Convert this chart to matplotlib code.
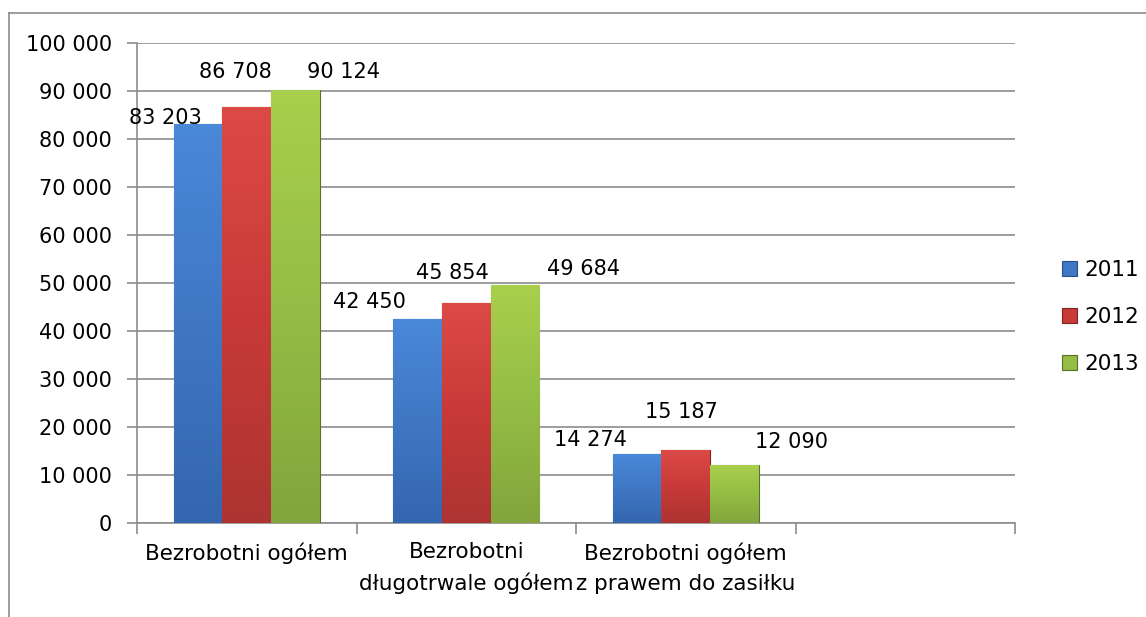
import matplotlib
matplotlib.use('Agg')
import matplotlib.pyplot as plt
import numpy as np
from matplotlib.colors import LinearSegmentedColormap
from matplotlib.lines import Line2D
from matplotlib.patches import Patch

categories = ['Bezrobotni ogółem',
              'Bezrobotni\ndługotrwale ogółem',
              'Bezrobotni ogółem\nz prawem do zasiłku',
              '']
years = ['2011', '2012', '2013']
v2011 = [83203, 42450, 14274]
v2012 = [86708, 45854, 15187]
v2013 = [90124, 49684, 12090]
yticks = [0, 10000, 20000, 30000, 40000, 50000, 60000, 70000, 80000, 90000, 100000]

# bar colours: base, light top, dark bottom
cols = [('#3f77c4', '#4a88d8', '#3466b0'),
        ('#c83a38', '#dc4a46', '#ad3432'),
        ('#94bd45', '#a9cf4c', '#83a53c')]
edge = ['#2a4f85', '#7d2422', '#5a7028']

# label offsets in pixels (excel style placement)
offsets = [[(-33, 6), (-48, 17), (-47, 14)],
           [(-11, 35), (-14, 30), (-4, 38)],
           [(48, 18), (68, 16), (57, 23)]]

def fmt(v):
    return f'{v:,}'.replace(',', ' ')

plt.rcParams['font.family'] = ['DejaVu Sans']
FS = 15
FS_CAT = 15.5

fig = plt.figure(figsize=(11.46, 6.17), dpi=100)
ax = fig.add_axes([137/1146, 94/617, 878/1146, 480/617])

w = 1 / 4.5
x = np.arange(3)
series = [v2011, v2012, v2013]
for k, vals in enumerate(series):
    bars = ax.bar(x + (k - 1) * w, vals, width=w, color=cols[k][0],
                  edgecolor=edge[k], linewidth=0.8, zorder=3)
    cmap = LinearSegmentedColormap.from_list('g%d' % k, [cols[k][2], cols[k][0], cols[k][1]])
    for b in bars:
        x0, y0 = b.get_x(), b.get_y()
        x1, y1 = x0 + b.get_width(), y0 + b.get_height()
        grad = np.linspace(0, 1, 100).reshape(-1, 1)
        im = ax.imshow(grad, extent=[x0, x1, y0, y1], origin='lower',
                       cmap=cmap, aspect='auto', zorder=3.5)
        im.set_clip_path(b)
    for b, v, off in zip(bars, vals, offsets[k]):
        ax.annotate(fmt(v), (b.get_x() + b.get_width() / 2, v),
                    xytext=off, textcoords='offset pixels',
                    ha='center', va='center', fontsize=FS, color='black', zorder=6)

ax.set_xlim(-0.5, 3.5)
ax.set_ylim(0, 100000)

ax.set_yticks(yticks)
ax.set_yticklabels([fmt(t) for t in yticks], fontsize=FS)
ax.yaxis.grid(True, color='#8c8c8c', linewidth=1.2)
ax.set_axisbelow(True)

ax.set_xticks(np.arange(-0.5, 4, 1))
ax.set_xticklabels([])
ax.set_xticks(np.arange(4), minor=True)
ax.set_xticklabels(categories, minor=True, fontsize=FS_CAT, va='top',
                   ha='center', linespacing=1.6)
ax.tick_params(axis='x', which='minor', length=0, pad=14)
ax.tick_params(axis='x', which='major', length=8, color='#8c8c8c', width=1.2)
ax.tick_params(axis='y', length=7, color='#8c8c8c', width=1.2, pad=11)

for s in ['top', 'right']:
    ax.spines[s].set_visible(False)
for s in ['left', 'bottom']:
    ax.spines[s].set_color('#8c8c8c')
    ax.spines[s].set_linewidth(1.2)

handles = [Patch(facecolor=cols[k][0], edgecolor=edge[k], linewidth=0.8) for k in range(3)]
fig.legend(handles, years, loc='center left',
           bbox_to_anchor=(1043/1146, 1 - 317/617), frameon=False,
           fontsize=FS_CAT, handlelength=0.7, handleheight=0.7,
           handletextpad=0.3, labelspacing=1.25)

# outer chart border (top and left visible)
fig.add_artist(Line2D([9/1146, 1.0], [1 - 13/617, 1 - 13/617],
                      transform=fig.transFigure, color='#8c8c8c', lw=1.2))
fig.add_artist(Line2D([9/1146, 9/1146], [0, 1 - 13/617],
                      transform=fig.transFigure, color='#8c8c8c', lw=1.2))

fig.savefig('out.png', dpi=100, facecolor='white')
